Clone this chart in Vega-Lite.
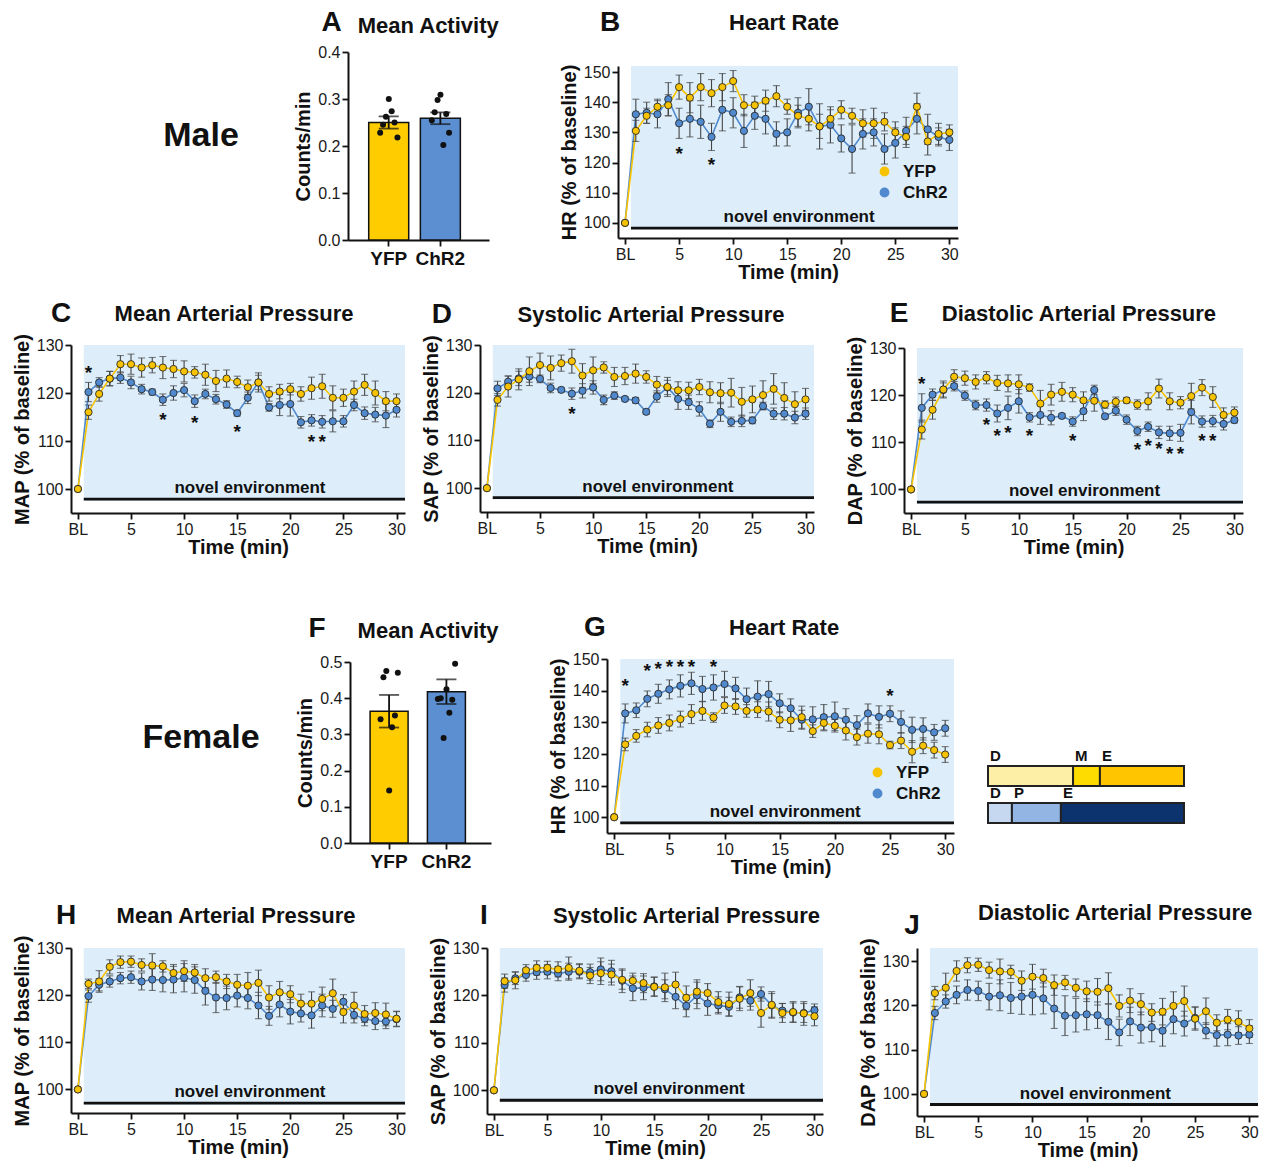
{
"$schema": "https://vega.github.io/schema/vega-lite/v6.json",
"padding": {"left": 12, "top": 8, "right": 2, "bottom": 2},
"background": "white",
"config": {
  "font": "Liberation Sans",
  "view": {"stroke": null},
  "axis": {"domainColor": "#111", "domainWidth": 2, "tickColor": "#111", "tickWidth": 1.8, "tickSize": 6, "labelFontSize": 16, "labelColor": "#1a1a1a", "titleFontSize": 20, "titleFontWeight": "bold", "titleColor": "#111", "grid": false, "labelPadding": 2, "labelOverlap": false},
  "axisY": {"titlePadding": 4},
  "axisX": {"titlePadding": 0},
  "legend": {"labelFontSize": 17, "labelFontWeight": "bold", "labelColor": "#111", "symbolSize": 70, "rowPadding": 3, "labelOffset": 10}
},
"datasets": {
"act": [
{"p":"A","g":"YFP","m":0.250,"se":0.013},{"p":"A","g":"ChR2","m":0.259,"se":0.0125},
{"p":"F","g":"YFP","m":0.364,"se":0.045},{"p":"F","g":"ChR2","m":0.418,"se":0.034}
],
"dots": [
{"p":"A","g":"YFP","id":1,"v":0.228},{"p":"A","g":"YFP","id":2,"v":0.245},{"p":"A","g":"YFP","id":3,"v":0.262},{"p":"A","g":"YFP","id":4,"v":0.300},{"p":"A","g":"YFP","id":5,"v":0.274},{"p":"A","g":"YFP","id":6,"v":0.250},{"p":"A","g":"YFP","id":7,"v":0.218},
{"p":"A","g":"ChR2","id":1,"v":0.255},{"p":"A","g":"ChR2","id":2,"v":0.272},{"p":"A","g":"ChR2","id":3,"v":0.298},{"p":"A","g":"ChR2","id":4,"v":0.309},{"p":"A","g":"ChR2","id":5,"v":0.202},{"p":"A","g":"ChR2","id":6,"v":0.268},{"p":"A","g":"ChR2","id":7,"v":0.228},
{"p":"F","g":"YFP","id":1,"v":0.342},{"p":"F","g":"YFP","id":2,"v":0.458},{"p":"F","g":"YFP","id":3,"v":0.475},{"p":"F","g":"YFP","id":4,"v":0.145},{"p":"F","g":"YFP","id":5,"v":0.320},{"p":"F","g":"YFP","id":6,"v":0.352},{"p":"F","g":"YFP","id":7,"v":0.470},
{"p":"F","g":"ChR2","id":1,"v":0.398},{"p":"F","g":"ChR2","id":2,"v":0.400},{"p":"F","g":"ChR2","id":3,"v":0.290},{"p":"F","g":"ChR2","id":4,"v":0.425},{"p":"F","g":"ChR2","id":5,"v":0.360},{"p":"F","g":"ChR2","id":6,"v":0.396},{"p":"F","g":"ChR2","id":7,"v":0.495}
],
"sch": [
{"r":"YFP","s":"D","k":"yD","a":0,"b":0.434},{"r":"YFP","s":"M","k":"yM","a":0.434,"b":0.571},{"r":"YFP","s":"E","k":"yE","a":0.571,"b":1},
{"r":"ChR2","s":"D","k":"cD","a":0,"b":0.122},{"r":"ChR2","s":"P","k":"cP","a":0.122,"b":0.372},{"r":"ChR2","s":"E","k":"cE","a":0.372,"b":1}
],
"stars": [
{"p":"B","t":5,"y":124.1},{"p":"B","t":8,"y":120.5},
{"p":"C","t":1,"y":125},{"p":"C","t":8,"y":115.3},{"p":"C","t":11,"y":114.5},{"p":"C","t":15,"y":112.7},{"p":"C","t":22,"y":110.6},{"p":"C","t":23,"y":110.6},
{"p":"D","t":8,"y":116.4},
{"p":"E","t":1,"y":123.3},{"p":"E","t":7,"y":114.5},{"p":"E","t":8,"y":112.1},{"p":"E","t":9,"y":112.8},{"p":"E","t":11,"y":112.2},{"p":"E","t":15,"y":111.2},{"p":"E","t":21,"y":109.3},{"p":"E","t":22,"y":110},{"p":"E","t":23,"y":109.4},{"p":"E","t":24,"y":108.4},{"p":"E","t":25,"y":108.4},{"p":"E","t":27,"y":111.2},{"p":"E","t":28,"y":111.2},
{"p":"G","t":1,"y":142.6},{"p":"G","t":3,"y":147.4},{"p":"G","t":4,"y":148},{"p":"G","t":5,"y":148.6},{"p":"G","t":6,"y":148.6},{"p":"G","t":7,"y":148.6},{"p":"G","t":9,"y":148.7},{"p":"G","t":25,"y":139.7}
],
"ts": [
{"p":"B","g":"ChR2","t":0,"v":100,"e":0},{"p":"B","g":"ChR2","t":1,"v":136,"e":5},{"p":"B","g":"ChR2","t":2,"v":136.5,"e":3.5},{"p":"B","g":"ChR2","t":3,"v":136,"e":4.5},{"p":"B","g":"ChR2","t":4,"v":141,"e":5.5},{"p":"B","g":"ChR2","t":5,"v":133,"e":5},{"p":"B","g":"ChR2","t":6,"v":134.5,"e":6},{"p":"B","g":"ChR2","t":7,"v":133.5,"e":5.5},{"p":"B","g":"ChR2","t":8,"v":128.5,"e":4.5},{"p":"B","g":"ChR2","t":9,"v":137.5,"e":7},{"p":"B","g":"ChR2","t":10,"v":136.5,"e":5},{"p":"B","g":"ChR2","t":11,"v":130.5,"e":5.5},{"p":"B","g":"ChR2","t":12,"v":135.5,"e":4.5},{"p":"B","g":"ChR2","t":13,"v":134.5,"e":5},{"p":"B","g":"ChR2","t":14,"v":129.5,"e":4},{"p":"B","g":"ChR2","t":15,"v":130,"e":4.5},{"p":"B","g":"ChR2","t":16,"v":136.5,"e":5},{"p":"B","g":"ChR2","t":17,"v":138.5,"e":6},{"p":"B","g":"ChR2","t":18,"v":132,"e":7.5},{"p":"B","g":"ChR2","t":19,"v":132.5,"e":6},{"p":"B","g":"ChR2","t":20,"v":128,"e":4.5},{"p":"B","g":"ChR2","t":21,"v":124.5,"e":8},{"p":"B","g":"ChR2","t":22,"v":129.5,"e":5},{"p":"B","g":"ChR2","t":23,"v":130,"e":4.5},{"p":"B","g":"ChR2","t":24,"v":124.5,"e":5},{"p":"B","g":"ChR2","t":25,"v":126.5,"e":5},{"p":"B","g":"ChR2","t":26,"v":130.5,"e":4.5},{"p":"B","g":"ChR2","t":27,"v":134.5,"e":5},{"p":"B","g":"ChR2","t":28,"v":131,"e":5},{"p":"B","g":"ChR2","t":29,"v":128.5,"e":3},{"p":"B","g":"ChR2","t":30,"v":127.5,"e":3.5},
{"p":"B","g":"YFP","t":0,"v":100,"e":0},{"p":"B","g":"YFP","t":1,"v":130.5,"e":3.5},{"p":"B","g":"YFP","t":2,"v":135.5,"e":2.5},{"p":"B","g":"YFP","t":3,"v":138.5,"e":2.5},{"p":"B","g":"YFP","t":4,"v":139,"e":3.5},{"p":"B","g":"YFP","t":5,"v":145,"e":4},{"p":"B","g":"YFP","t":6,"v":141.5,"e":5},{"p":"B","g":"YFP","t":7,"v":145,"e":4.5},{"p":"B","g":"YFP","t":8,"v":143,"e":4.5},{"p":"B","g":"YFP","t":9,"v":145,"e":4.5},{"p":"B","g":"YFP","t":10,"v":147,"e":3.5},{"p":"B","g":"YFP","t":11,"v":139,"e":3.5},{"p":"B","g":"YFP","t":12,"v":139,"e":3},{"p":"B","g":"YFP","t":13,"v":140.5,"e":3.5},{"p":"B","g":"YFP","t":14,"v":142,"e":3.5},{"p":"B","g":"YFP","t":15,"v":138.5,"e":2.5},{"p":"B","g":"YFP","t":16,"v":135.5,"e":3.5},{"p":"B","g":"YFP","t":17,"v":134.5,"e":4},{"p":"B","g":"YFP","t":18,"v":132,"e":4},{"p":"B","g":"YFP","t":19,"v":134.5,"e":3},{"p":"B","g":"YFP","t":20,"v":137.5,"e":3},{"p":"B","g":"YFP","t":21,"v":135.5,"e":2.5},{"p":"B","g":"YFP","t":22,"v":133,"e":4.5},{"p":"B","g":"YFP","t":23,"v":133,"e":5},{"p":"B","g":"YFP","t":24,"v":133.5,"e":3},{"p":"B","g":"YFP","t":25,"v":130,"e":3.5},{"p":"B","g":"YFP","t":26,"v":128.5,"e":3.5},{"p":"B","g":"YFP","t":27,"v":138.5,"e":4.5},{"p":"B","g":"YFP","t":28,"v":127,"e":4.5},{"p":"B","g":"YFP","t":29,"v":129.5,"e":3.5},{"p":"B","g":"YFP","t":30,"v":130,"e":2.5},
{"p":"C","g":"ChR2","t":0,"v":100,"e":0},{"p":"C","g":"ChR2","t":1,"v":120.2,"e":2},{"p":"C","g":"ChR2","t":2,"v":122.2,"e":1},{"p":"C","g":"ChR2","t":3,"v":123,"e":1.5},{"p":"C","g":"ChR2","t":4,"v":123.2,"e":1.2},{"p":"C","g":"ChR2","t":5,"v":122.2,"e":1.3},{"p":"C","g":"ChR2","t":6,"v":120.8,"e":1},{"p":"C","g":"ChR2","t":7,"v":120.2,"e":0.6},{"p":"C","g":"ChR2","t":8,"v":118.6,"e":1.2},{"p":"C","g":"ChR2","t":9,"v":120,"e":1.5},{"p":"C","g":"ChR2","t":10,"v":120.6,"e":1.4},{"p":"C","g":"ChR2","t":11,"v":118.3,"e":1.3},{"p":"C","g":"ChR2","t":12,"v":119.8,"e":1},{"p":"C","g":"ChR2","t":13,"v":118.7,"e":1},{"p":"C","g":"ChR2","t":14,"v":117.6,"e":0.8},{"p":"C","g":"ChR2","t":15,"v":115.8,"e":0.6},{"p":"C","g":"ChR2","t":16,"v":119,"e":1.2},{"p":"C","g":"ChR2","t":17,"v":122.2,"e":1.5},{"p":"C","g":"ChR2","t":18,"v":117,"e":0.8},{"p":"C","g":"ChR2","t":19,"v":117.5,"e":2.2},{"p":"C","g":"ChR2","t":20,"v":117.7,"e":2.5},{"p":"C","g":"ChR2","t":21,"v":113.9,"e":1.2},{"p":"C","g":"ChR2","t":22,"v":114.3,"e":1.2},{"p":"C","g":"ChR2","t":23,"v":114,"e":1.3},{"p":"C","g":"ChR2","t":24,"v":114.1,"e":2.2},{"p":"C","g":"ChR2","t":25,"v":114.1,"e":1.2},{"p":"C","g":"ChR2","t":26,"v":117.5,"e":1.2},{"p":"C","g":"ChR2","t":27,"v":115.8,"e":1.3},{"p":"C","g":"ChR2","t":28,"v":115.5,"e":1.5},{"p":"C","g":"ChR2","t":29,"v":115.3,"e":2.5},{"p":"C","g":"ChR2","t":30,"v":116.5,"e":1.5},
{"p":"C","g":"YFP","t":0,"v":100,"e":0},{"p":"C","g":"YFP","t":1,"v":116,"e":1.5},{"p":"C","g":"YFP","t":2,"v":119.8,"e":1.5},{"p":"C","g":"YFP","t":3,"v":123,"e":1.5},{"p":"C","g":"YFP","t":4,"v":126,"e":1.8},{"p":"C","g":"YFP","t":5,"v":126,"e":2.1},{"p":"C","g":"YFP","t":6,"v":125.3,"e":2},{"p":"C","g":"YFP","t":7,"v":125.8,"e":1.6},{"p":"C","g":"YFP","t":8,"v":125.3,"e":2.3},{"p":"C","g":"YFP","t":9,"v":125,"e":1.8},{"p":"C","g":"YFP","t":10,"v":124.5,"e":2.2},{"p":"C","g":"YFP","t":11,"v":124.3,"e":1.2},{"p":"C","g":"YFP","t":12,"v":123.8,"e":2.2},{"p":"C","g":"YFP","t":13,"v":122.5,"e":2.2},{"p":"C","g":"YFP","t":14,"v":123,"e":1.8},{"p":"C","g":"YFP","t":15,"v":122.3,"e":1.2},{"p":"C","g":"YFP","t":16,"v":121.2,"e":1.5},{"p":"C","g":"YFP","t":17,"v":122.2,"e":2},{"p":"C","g":"YFP","t":18,"v":119.8,"e":1.5},{"p":"C","g":"YFP","t":19,"v":120.3,"e":1.5},{"p":"C","g":"YFP","t":20,"v":120.8,"e":1.2},{"p":"C","g":"YFP","t":21,"v":119.8,"e":1.5},{"p":"C","g":"YFP","t":22,"v":121,"e":2.3},{"p":"C","g":"YFP","t":23,"v":121.4,"e":2.5},{"p":"C","g":"YFP","t":24,"v":119,"e":2.5},{"p":"C","g":"YFP","t":25,"v":119,"e":1.8},{"p":"C","g":"YFP","t":26,"v":120.3,"e":2.2},{"p":"C","g":"YFP","t":27,"v":121.7,"e":2.2},{"p":"C","g":"YFP","t":28,"v":120,"e":2.5},{"p":"C","g":"YFP","t":29,"v":118.3,"e":2},{"p":"C","g":"YFP","t":30,"v":118.3,"e":1.5},
{"p":"D","g":"ChR2","t":0,"v":100,"e":0},{"p":"D","g":"ChR2","t":1,"v":120.9,"e":1.5},{"p":"D","g":"ChR2","t":2,"v":122.3,"e":1.2},{"p":"D","g":"ChR2","t":3,"v":123,"e":1.5},{"p":"D","g":"ChR2","t":4,"v":123.4,"e":1.2},{"p":"D","g":"ChR2","t":5,"v":122.9,"e":0.8},{"p":"D","g":"ChR2","t":6,"v":121,"e":1},{"p":"D","g":"ChR2","t":7,"v":120.6,"e":0.5},{"p":"D","g":"ChR2","t":8,"v":119.8,"e":1.2},{"p":"D","g":"ChR2","t":9,"v":120.4,"e":1.5},{"p":"D","g":"ChR2","t":10,"v":121.1,"e":1.4},{"p":"D","g":"ChR2","t":11,"v":118.5,"e":1},{"p":"D","g":"ChR2","t":12,"v":119.4,"e":0.8},{"p":"D","g":"ChR2","t":13,"v":118.7,"e":0.5},{"p":"D","g":"ChR2","t":14,"v":118.4,"e":0.6},{"p":"D","g":"ChR2","t":15,"v":116,"e":0.5},{"p":"D","g":"ChR2","t":16,"v":119.2,"e":1.2},{"p":"D","g":"ChR2","t":17,"v":121.1,"e":1.5},{"p":"D","g":"ChR2","t":18,"v":118.7,"e":2.2},{"p":"D","g":"ChR2","t":19,"v":118,"e":1.5},{"p":"D","g":"ChR2","t":20,"v":116.6,"e":1.5},{"p":"D","g":"ChR2","t":21,"v":113.5,"e":0.8},{"p":"D","g":"ChR2","t":22,"v":116,"e":2},{"p":"D","g":"ChR2","t":23,"v":113.9,"e":1},{"p":"D","g":"ChR2","t":24,"v":114.1,"e":1.2},{"p":"D","g":"ChR2","t":25,"v":114.2,"e":0.7},{"p":"D","g":"ChR2","t":26,"v":117.2,"e":0.8},{"p":"D","g":"ChR2","t":27,"v":115.6,"e":1.2},{"p":"D","g":"ChR2","t":28,"v":115.6,"e":1.3},{"p":"D","g":"ChR2","t":29,"v":114.8,"e":1.3},{"p":"D","g":"ChR2","t":30,"v":115.6,"e":1.2},
{"p":"D","g":"YFP","t":0,"v":100,"e":0},{"p":"D","g":"YFP","t":1,"v":118.5,"e":1.3},{"p":"D","g":"YFP","t":2,"v":121.3,"e":2.2},{"p":"D","g":"YFP","t":3,"v":122.8,"e":2.2},{"p":"D","g":"YFP","t":4,"v":124.5,"e":3},{"p":"D","g":"YFP","t":5,"v":125.8,"e":2.5},{"p":"D","g":"YFP","t":6,"v":125.2,"e":2.5},{"p":"D","g":"YFP","t":7,"v":126.2,"e":1.7},{"p":"D","g":"YFP","t":8,"v":126.6,"e":2.5},{"p":"D","g":"YFP","t":9,"v":123.6,"e":2.5},{"p":"D","g":"YFP","t":10,"v":124.7,"e":2.8},{"p":"D","g":"YFP","t":11,"v":125.3,"e":1.2},{"p":"D","g":"YFP","t":12,"v":123.3,"e":2},{"p":"D","g":"YFP","t":13,"v":123.5,"e":1.8},{"p":"D","g":"YFP","t":14,"v":124,"e":2},{"p":"D","g":"YFP","t":15,"v":123.3,"e":1.3},{"p":"D","g":"YFP","t":16,"v":121.7,"e":1.7},{"p":"D","g":"YFP","t":17,"v":121.2,"e":2},{"p":"D","g":"YFP","t":18,"v":120.5,"e":1.8},{"p":"D","g":"YFP","t":19,"v":120.5,"e":1.7},{"p":"D","g":"YFP","t":20,"v":121.2,"e":1.6},{"p":"D","g":"YFP","t":21,"v":120.1,"e":2.2},{"p":"D","g":"YFP","t":22,"v":119.9,"e":2.2},{"p":"D","g":"YFP","t":23,"v":120,"e":3},{"p":"D","g":"YFP","t":24,"v":118.1,"e":3},{"p":"D","g":"YFP","t":25,"v":118.6,"e":2.8},{"p":"D","g":"YFP","t":26,"v":119.5,"e":3},{"p":"D","g":"YFP","t":27,"v":120.8,"e":3.2},{"p":"D","g":"YFP","t":28,"v":118.9,"e":3.2},{"p":"D","g":"YFP","t":29,"v":117.6,"e":2.6},{"p":"D","g":"YFP","t":30,"v":118.6,"e":2.3},
{"p":"E","g":"ChR2","t":0,"v":100,"e":0},{"p":"E","g":"ChR2","t":1,"v":117.3,"e":3},{"p":"E","g":"ChR2","t":2,"v":120.1,"e":1.2},{"p":"E","g":"ChR2","t":3,"v":121.1,"e":1.5},{"p":"E","g":"ChR2","t":4,"v":121.9,"e":1},{"p":"E","g":"ChR2","t":5,"v":119.9,"e":1},{"p":"E","g":"ChR2","t":6,"v":117.9,"e":1},{"p":"E","g":"ChR2","t":7,"v":117.9,"e":1.3},{"p":"E","g":"ChR2","t":8,"v":116.1,"e":1.8},{"p":"E","g":"ChR2","t":9,"v":117.3,"e":2.5},{"p":"E","g":"ChR2","t":10,"v":118.7,"e":2.5},{"p":"E","g":"ChR2","t":11,"v":115.3,"e":1},{"p":"E","g":"ChR2","t":12,"v":115.8,"e":2},{"p":"E","g":"ChR2","t":13,"v":115.2,"e":1.5},{"p":"E","g":"ChR2","t":14,"v":115.6,"e":0.5},{"p":"E","g":"ChR2","t":15,"v":114.4,"e":1},{"p":"E","g":"ChR2","t":16,"v":116.6,"e":2},{"p":"E","g":"ChR2","t":17,"v":121.1,"e":1},{"p":"E","g":"ChR2","t":18,"v":115.5,"e":0.5},{"p":"E","g":"ChR2","t":19,"v":116.7,"e":1},{"p":"E","g":"ChR2","t":20,"v":114.8,"e":1},{"p":"E","g":"ChR2","t":21,"v":112.4,"e":1},{"p":"E","g":"ChR2","t":22,"v":113.3,"e":1},{"p":"E","g":"ChR2","t":23,"v":112.1,"e":1.3},{"p":"E","g":"ChR2","t":24,"v":111.9,"e":1.5},{"p":"E","g":"ChR2","t":25,"v":112,"e":1.8},{"p":"E","g":"ChR2","t":26,"v":116.4,"e":2.5},{"p":"E","g":"ChR2","t":27,"v":114.4,"e":1.2},{"p":"E","g":"ChR2","t":28,"v":114.5,"e":1.2},{"p":"E","g":"ChR2","t":29,"v":113.9,"e":1.3},{"p":"E","g":"ChR2","t":30,"v":114.7,"e":0.6},
{"p":"E","g":"YFP","t":0,"v":100,"e":0},{"p":"E","g":"YFP","t":1,"v":112.7,"e":2},{"p":"E","g":"YFP","t":2,"v":116.9,"e":2},{"p":"E","g":"YFP","t":3,"v":121.2,"e":1.8},{"p":"E","g":"YFP","t":4,"v":123.9,"e":1.5},{"p":"E","g":"YFP","t":5,"v":123.6,"e":1.5},{"p":"E","g":"YFP","t":6,"v":122.8,"e":1.5},{"p":"E","g":"YFP","t":7,"v":123.7,"e":1.3},{"p":"E","g":"YFP","t":8,"v":122.6,"e":1.6},{"p":"E","g":"YFP","t":9,"v":122.5,"e":1.8},{"p":"E","g":"YFP","t":10,"v":122.3,"e":2},{"p":"E","g":"YFP","t":11,"v":121.6,"e":0.8},{"p":"E","g":"YFP","t":12,"v":118.2,"e":2.8},{"p":"E","g":"YFP","t":13,"v":120.1,"e":2.2},{"p":"E","g":"YFP","t":14,"v":120.7,"e":2},{"p":"E","g":"YFP","t":15,"v":120.1,"e":1.5},{"p":"E","g":"YFP","t":16,"v":118.9,"e":1.8},{"p":"E","g":"YFP","t":17,"v":118.8,"e":2.2},{"p":"E","g":"YFP","t":18,"v":118,"e":0.8},{"p":"E","g":"YFP","t":19,"v":118.6,"e":1},{"p":"E","g":"YFP","t":20,"v":118.9,"e":0.6},{"p":"E","g":"YFP","t":21,"v":118,"e":1},{"p":"E","g":"YFP","t":22,"v":118.7,"e":1.8},{"p":"E","g":"YFP","t":23,"v":121.4,"e":2},{"p":"E","g":"YFP","t":24,"v":118.7,"e":1.8},{"p":"E","g":"YFP","t":25,"v":118.4,"e":1.3},{"p":"E","g":"YFP","t":26,"v":119.8,"e":2.7},{"p":"E","g":"YFP","t":27,"v":121.6,"e":1.7},{"p":"E","g":"YFP","t":28,"v":119.6,"e":2.2},{"p":"E","g":"YFP","t":29,"v":115.8,"e":1.5},{"p":"E","g":"YFP","t":30,"v":116.3,"e":1.2},
{"p":"G","g":"ChR2","t":0,"v":100,"e":0},{"p":"G","g":"ChR2","t":1,"v":132.8,"e":3},{"p":"G","g":"ChR2","t":2,"v":133.8,"e":2.3},{"p":"G","g":"ChR2","t":3,"v":137.4,"e":2.5},{"p":"G","g":"ChR2","t":4,"v":139,"e":3},{"p":"G","g":"ChR2","t":5,"v":140.4,"e":3},{"p":"G","g":"ChR2","t":6,"v":141.5,"e":3.5},{"p":"G","g":"ChR2","t":7,"v":142.3,"e":3.5},{"p":"G","g":"ChR2","t":8,"v":140.5,"e":4},{"p":"G","g":"ChR2","t":9,"v":141,"e":4},{"p":"G","g":"ChR2","t":10,"v":142.1,"e":4},{"p":"G","g":"ChR2","t":11,"v":140.7,"e":3.5},{"p":"G","g":"ChR2","t":12,"v":137.3,"e":3.5},{"p":"G","g":"ChR2","t":13,"v":138.1,"e":5},{"p":"G","g":"ChR2","t":14,"v":138.9,"e":4},{"p":"G","g":"ChR2","t":15,"v":136,"e":3},{"p":"G","g":"ChR2","t":16,"v":134.4,"e":3},{"p":"G","g":"ChR2","t":17,"v":130.8,"e":3},{"p":"G","g":"ChR2","t":18,"v":130.9,"e":4},{"p":"G","g":"ChR2","t":19,"v":131.6,"e":4},{"p":"G","g":"ChR2","t":20,"v":131.9,"e":4.5},{"p":"G","g":"ChR2","t":21,"v":130.8,"e":3.5},{"p":"G","g":"ChR2","t":22,"v":129.1,"e":3},{"p":"G","g":"ChR2","t":23,"v":132.8,"e":3},{"p":"G","g":"ChR2","t":24,"v":131.7,"e":3.5},{"p":"G","g":"ChR2","t":25,"v":132.7,"e":2.5},{"p":"G","g":"ChR2","t":26,"v":130.1,"e":3.5},{"p":"G","g":"ChR2","t":27,"v":127.6,"e":4},{"p":"G","g":"ChR2","t":28,"v":127.9,"e":3.5},{"p":"G","g":"ChR2","t":29,"v":126.8,"e":2.5},{"p":"G","g":"ChR2","t":30,"v":128.1,"e":2.5},
{"p":"G","g":"YFP","t":0,"v":100,"e":0},{"p":"G","g":"YFP","t":1,"v":123,"e":2},{"p":"G","g":"YFP","t":2,"v":125.7,"e":2},{"p":"G","g":"YFP","t":3,"v":127.7,"e":2.3},{"p":"G","g":"YFP","t":4,"v":129,"e":2.5},{"p":"G","g":"YFP","t":5,"v":129.8,"e":2.5},{"p":"G","g":"YFP","t":6,"v":131,"e":2.5},{"p":"G","g":"YFP","t":7,"v":132.6,"e":3},{"p":"G","g":"YFP","t":8,"v":133.6,"e":3},{"p":"G","g":"YFP","t":9,"v":131.5,"e":1.5},{"p":"G","g":"YFP","t":10,"v":135.3,"e":2.5},{"p":"G","g":"YFP","t":11,"v":135,"e":2.5},{"p":"G","g":"YFP","t":12,"v":133.6,"e":2},{"p":"G","g":"YFP","t":13,"v":134,"e":2.5},{"p":"G","g":"YFP","t":14,"v":133.4,"e":3},{"p":"G","g":"YFP","t":15,"v":130.8,"e":2.5},{"p":"G","g":"YFP","t":16,"v":130.6,"e":3.5},{"p":"G","g":"YFP","t":17,"v":131.6,"e":3.5},{"p":"G","g":"YFP","t":18,"v":127.2,"e":2},{"p":"G","g":"YFP","t":19,"v":129.8,"e":2.5},{"p":"G","g":"YFP","t":20,"v":128.9,"e":2},{"p":"G","g":"YFP","t":21,"v":127.4,"e":3},{"p":"G","g":"YFP","t":22,"v":125.3,"e":2.5},{"p":"G","g":"YFP","t":23,"v":126.4,"e":3},{"p":"G","g":"YFP","t":24,"v":126.2,"e":3},{"p":"G","g":"YFP","t":25,"v":122.8,"e":1.2},{"p":"G","g":"YFP","t":26,"v":124.2,"e":2.5},{"p":"G","g":"YFP","t":27,"v":120.7,"e":3.5},{"p":"G","g":"YFP","t":28,"v":122.6,"e":2.5},{"p":"G","g":"YFP","t":29,"v":121.2,"e":2.5},{"p":"G","g":"YFP","t":30,"v":119.8,"e":2.5},
{"p":"H","g":"ChR2","t":0,"v":100,"e":0},{"p":"H","g":"ChR2","t":1,"v":119.8,"e":1.3},{"p":"H","g":"ChR2","t":2,"v":122.2,"e":1.3},{"p":"H","g":"ChR2","t":3,"v":122.9,"e":1.2},{"p":"H","g":"ChR2","t":4,"v":123.6,"e":1.2},{"p":"H","g":"ChR2","t":5,"v":123.8,"e":1.3},{"p":"H","g":"ChR2","t":6,"v":122.9,"e":1.8},{"p":"H","g":"ChR2","t":7,"v":123.3,"e":2.3},{"p":"H","g":"ChR2","t":8,"v":123.2,"e":2.5},{"p":"H","g":"ChR2","t":9,"v":123.3,"e":2.8},{"p":"H","g":"ChR2","t":10,"v":123.7,"e":3},{"p":"H","g":"ChR2","t":11,"v":123.2,"e":2.8},{"p":"H","g":"ChR2","t":12,"v":120.9,"e":3},{"p":"H","g":"ChR2","t":13,"v":119.5,"e":3.2},{"p":"H","g":"ChR2","t":14,"v":119.4,"e":2.5},{"p":"H","g":"ChR2","t":15,"v":119.9,"e":2.4},{"p":"H","g":"ChR2","t":16,"v":119.4,"e":2.3},{"p":"H","g":"ChR2","t":17,"v":117.8,"e":2.8},{"p":"H","g":"ChR2","t":18,"v":115.6,"e":2},{"p":"H","g":"ChR2","t":19,"v":118,"e":2.6},{"p":"H","g":"ChR2","t":20,"v":116.5,"e":2.6},{"p":"H","g":"ChR2","t":21,"v":116.1,"e":1.8},{"p":"H","g":"ChR2","t":22,"v":115.7,"e":2.7},{"p":"H","g":"ChR2","t":23,"v":117.8,"e":2.4},{"p":"H","g":"ChR2","t":24,"v":117.1,"e":1.8},{"p":"H","g":"ChR2","t":25,"v":118.6,"e":1.5},{"p":"H","g":"ChR2","t":26,"v":115.8,"e":1.7},{"p":"H","g":"ChR2","t":27,"v":115,"e":1.5},{"p":"H","g":"ChR2","t":28,"v":114.5,"e":1.8},{"p":"H","g":"ChR2","t":29,"v":114.4,"e":1.5},{"p":"H","g":"ChR2","t":30,"v":114.9,"e":1.6},
{"p":"H","g":"YFP","t":0,"v":100,"e":0},{"p":"H","g":"YFP","t":1,"v":122.4,"e":1},{"p":"H","g":"YFP","t":2,"v":122.9,"e":2.3},{"p":"H","g":"YFP","t":3,"v":126,"e":1.5},{"p":"H","g":"YFP","t":4,"v":127,"e":1.3},{"p":"H","g":"YFP","t":5,"v":127.1,"e":1.2},{"p":"H","g":"YFP","t":6,"v":126.4,"e":1.3},{"p":"H","g":"YFP","t":7,"v":126.3,"e":2.5},{"p":"H","g":"YFP","t":8,"v":126.1,"e":1.2},{"p":"H","g":"YFP","t":9,"v":124.7,"e":1.8},{"p":"H","g":"YFP","t":10,"v":125.1,"e":2.2},{"p":"H","g":"YFP","t":11,"v":124.8,"e":1.7},{"p":"H","g":"YFP","t":12,"v":123.6,"e":2},{"p":"H","g":"YFP","t":13,"v":123.8,"e":1.3},{"p":"H","g":"YFP","t":14,"v":122.9,"e":1.5},{"p":"H","g":"YFP","t":15,"v":122.2,"e":2.2},{"p":"H","g":"YFP","t":16,"v":122,"e":2.8},{"p":"H","g":"YFP","t":17,"v":122.6,"e":2.7},{"p":"H","g":"YFP","t":18,"v":119.5,"e":2.5},{"p":"H","g":"YFP","t":19,"v":120.6,"e":2.3},{"p":"H","g":"YFP","t":20,"v":120.2,"e":1.8},{"p":"H","g":"YFP","t":21,"v":118.2,"e":2},{"p":"H","g":"YFP","t":22,"v":118.2,"e":2.5},{"p":"H","g":"YFP","t":23,"v":119.2,"e":2.5},{"p":"H","g":"YFP","t":24,"v":120.4,"e":3},{"p":"H","g":"YFP","t":25,"v":116.4,"e":2.3},{"p":"H","g":"YFP","t":26,"v":117.8,"e":2.8},{"p":"H","g":"YFP","t":27,"v":116,"e":1.8},{"p":"H","g":"YFP","t":28,"v":116.2,"e":2.2},{"p":"H","g":"YFP","t":29,"v":115.9,"e":2.4},{"p":"H","g":"YFP","t":30,"v":115,"e":1.6},
{"p":"I","g":"ChR2","t":0,"v":100,"e":0},{"p":"I","g":"ChR2","t":1,"v":122.2,"e":1.5},{"p":"I","g":"ChR2","t":2,"v":123.6,"e":1.3},{"p":"I","g":"ChR2","t":3,"v":124.3,"e":1.3},{"p":"I","g":"ChR2","t":4,"v":124.9,"e":1.5},{"p":"I","g":"ChR2","t":5,"v":125,"e":1.5},{"p":"I","g":"ChR2","t":6,"v":124.6,"e":1.5},{"p":"I","g":"ChR2","t":7,"v":125,"e":1.8},{"p":"I","g":"ChR2","t":8,"v":125,"e":1.5},{"p":"I","g":"ChR2","t":9,"v":124.9,"e":1.7},{"p":"I","g":"ChR2","t":10,"v":125.5,"e":2.4},{"p":"I","g":"ChR2","t":11,"v":125.1,"e":2.3},{"p":"I","g":"ChR2","t":12,"v":123.1,"e":2.5},{"p":"I","g":"ChR2","t":13,"v":121.5,"e":2.6},{"p":"I","g":"ChR2","t":14,"v":121.6,"e":2.5},{"p":"I","g":"ChR2","t":15,"v":121.9,"e":2},{"p":"I","g":"ChR2","t":16,"v":121.3,"e":2},{"p":"I","g":"ChR2","t":17,"v":119.7,"e":2.5},{"p":"I","g":"ChR2","t":18,"v":117.8,"e":2.3},{"p":"I","g":"ChR2","t":19,"v":120,"e":2.8},{"p":"I","g":"ChR2","t":20,"v":118.3,"e":2.5},{"p":"I","g":"ChR2","t":21,"v":117.9,"e":1.8},{"p":"I","g":"ChR2","t":22,"v":117.6,"e":2},{"p":"I","g":"ChR2","t":23,"v":119.6,"e":2.3},{"p":"I","g":"ChR2","t":24,"v":118.9,"e":2},{"p":"I","g":"ChR2","t":25,"v":120.3,"e":1.5},{"p":"I","g":"ChR2","t":26,"v":117.9,"e":2.5},{"p":"I","g":"ChR2","t":27,"v":116.8,"e":1.5},{"p":"I","g":"ChR2","t":28,"v":116.4,"e":2},{"p":"I","g":"ChR2","t":29,"v":116.3,"e":2},{"p":"I","g":"ChR2","t":30,"v":116.9,"e":1.3},
{"p":"I","g":"YFP","t":0,"v":100,"e":0},{"p":"I","g":"YFP","t":1,"v":123,"e":1.5},{"p":"I","g":"YFP","t":2,"v":123.2,"e":1.8},{"p":"I","g":"YFP","t":3,"v":125.3,"e":1.2},{"p":"I","g":"YFP","t":4,"v":125.8,"e":1.5},{"p":"I","g":"YFP","t":5,"v":125.8,"e":1.4},{"p":"I","g":"YFP","t":6,"v":125.5,"e":1.6},{"p":"I","g":"YFP","t":7,"v":125.8,"e":2.3},{"p":"I","g":"YFP","t":8,"v":125.2,"e":1.5},{"p":"I","g":"YFP","t":9,"v":124.2,"e":1.7},{"p":"I","g":"YFP","t":10,"v":124.7,"e":2.4},{"p":"I","g":"YFP","t":11,"v":124.4,"e":2.2},{"p":"I","g":"YFP","t":12,"v":123.3,"e":2},{"p":"I","g":"YFP","t":13,"v":123.1,"e":1.6},{"p":"I","g":"YFP","t":14,"v":122.6,"e":2},{"p":"I","g":"YFP","t":15,"v":121.8,"e":2},{"p":"I","g":"YFP","t":16,"v":121.7,"e":3},{"p":"I","g":"YFP","t":17,"v":122.3,"e":2.6},{"p":"I","g":"YFP","t":18,"v":119.5,"e":2.5},{"p":"I","g":"YFP","t":19,"v":120.8,"e":2.5},{"p":"I","g":"YFP","t":20,"v":120.5,"e":2},{"p":"I","g":"YFP","t":21,"v":118.6,"e":2.2},{"p":"I","g":"YFP","t":22,"v":118.2,"e":2.5},{"p":"I","g":"YFP","t":23,"v":119.3,"e":2.5},{"p":"I","g":"YFP","t":24,"v":120.5,"e":2.8},{"p":"I","g":"YFP","t":25,"v":116.3,"e":3},{"p":"I","g":"YFP","t":26,"v":118,"e":2.8},{"p":"I","g":"YFP","t":27,"v":116.3,"e":2},{"p":"I","g":"YFP","t":28,"v":116.5,"e":2.2},{"p":"I","g":"YFP","t":29,"v":116.2,"e":2.5},{"p":"I","g":"YFP","t":30,"v":115.6,"e":2},
{"p":"J","g":"ChR2","t":0,"v":100,"e":0},{"p":"J","g":"ChR2","t":1,"v":118.3,"e":1.5},{"p":"J","g":"ChR2","t":2,"v":120.9,"e":1.5},{"p":"J","g":"ChR2","t":3,"v":122.4,"e":2},{"p":"J","g":"ChR2","t":4,"v":123.5,"e":2.3},{"p":"J","g":"ChR2","t":5,"v":123.3,"e":2.2},{"p":"J","g":"ChR2","t":6,"v":122,"e":3},{"p":"J","g":"ChR2","t":7,"v":122.3,"e":3.5},{"p":"J","g":"ChR2","t":8,"v":121.7,"e":3.5},{"p":"J","g":"ChR2","t":9,"v":122,"e":4},{"p":"J","g":"ChR2","t":10,"v":122.4,"e":4.5},{"p":"J","g":"ChR2","t":11,"v":121.6,"e":3.5},{"p":"J","g":"ChR2","t":12,"v":119.3,"e":4.5},{"p":"J","g":"ChR2","t":13,"v":117.7,"e":4.5},{"p":"J","g":"ChR2","t":14,"v":117.8,"e":3.8},{"p":"J","g":"ChR2","t":15,"v":118,"e":3.5},{"p":"J","g":"ChR2","t":16,"v":117.8,"e":3},{"p":"J","g":"ChR2","t":17,"v":116.3,"e":4},{"p":"J","g":"ChR2","t":18,"v":113.9,"e":3},{"p":"J","g":"ChR2","t":19,"v":116.4,"e":3.2},{"p":"J","g":"ChR2","t":20,"v":115,"e":3.5},{"p":"J","g":"ChR2","t":21,"v":115.1,"e":3.3},{"p":"J","g":"ChR2","t":22,"v":114.3,"e":3.5},{"p":"J","g":"ChR2","t":23,"v":116.9,"e":3.3},{"p":"J","g":"ChR2","t":24,"v":115.9,"e":2.8},{"p":"J","g":"ChR2","t":25,"v":117.2,"e":2.5},{"p":"J","g":"ChR2","t":26,"v":114.3,"e":1.8},{"p":"J","g":"ChR2","t":27,"v":113.3,"e":2.5},{"p":"J","g":"ChR2","t":28,"v":113.4,"e":2.5},{"p":"J","g":"ChR2","t":29,"v":113.2,"e":2},{"p":"J","g":"ChR2","t":30,"v":113.4,"e":2},
{"p":"J","g":"YFP","t":0,"v":100,"e":0},{"p":"J","g":"YFP","t":1,"v":122.8,"e":1.5},{"p":"J","g":"YFP","t":2,"v":124,"e":3.3},{"p":"J","g":"YFP","t":3,"v":127.8,"e":2.3},{"p":"J","g":"YFP","t":4,"v":129.1,"e":1.7},{"p":"J","g":"YFP","t":5,"v":129.2,"e":1.5},{"p":"J","g":"YFP","t":6,"v":128,"e":1.8},{"p":"J","g":"YFP","t":7,"v":127.7,"e":2.8},{"p":"J","g":"YFP","t":8,"v":127.6,"e":1.5},{"p":"J","g":"YFP","t":9,"v":125.6,"e":2.2},{"p":"J","g":"YFP","t":10,"v":126.5,"e":2.8},{"p":"J","g":"YFP","t":11,"v":126.2,"e":2},{"p":"J","g":"YFP","t":12,"v":124.6,"e":2.3},{"p":"J","g":"YFP","t":13,"v":125.2,"e":1.6},{"p":"J","g":"YFP","t":14,"v":124,"e":2},{"p":"J","g":"YFP","t":15,"v":123.2,"e":2.3},{"p":"J","g":"YFP","t":16,"v":123.1,"e":3},{"p":"J","g":"YFP","t":17,"v":123.9,"e":3.5},{"p":"J","g":"YFP","t":18,"v":119.9,"e":2.5},{"p":"J","g":"YFP","t":19,"v":121.1,"e":2.7},{"p":"J","g":"YFP","t":20,"v":120.3,"e":2.4},{"p":"J","g":"YFP","t":21,"v":118.4,"e":2},{"p":"J","g":"YFP","t":22,"v":118.6,"e":3},{"p":"J","g":"YFP","t":23,"v":119.9,"e":3.2},{"p":"J","g":"YFP","t":24,"v":121,"e":3.4},{"p":"J","g":"YFP","t":25,"v":117,"e":2.6},{"p":"J","g":"YFP","t":26,"v":118.7,"e":3},{"p":"J","g":"YFP","t":27,"v":116.1,"e":1.8},{"p":"J","g":"YFP","t":28,"v":116.8,"e":2.3},{"p":"J","g":"YFP","t":29,"v":116.3,"e":2.5},{"p":"J","g":"YFP","t":30,"v":114.8,"e":2}
]
},
"resolve": {"scale": {"color": "independent"}, "legend": {"color": "independent"}},
"bounds": "flush",
"align": "each",
"spacing": {"row": 0, "column": 0},
"columns": 4,
"concat": [
{"width": 260, "height": 168, "data": {"values": [{"lab": "Male"}]}, "mark": {"type": "text", "fontSize": 34, "fontWeight": "bold", "color": "#111"}, "encoding": {"text": {"field": "lab", "type": "nominal"}}},
{"width": 259, "height": 188,
 "resolve": {"scale": {"x": "independent"}},
 "layer": [
  {"layer": [
   {"data": {"name": "act"}, "transform": [{"filter": "datum.p === 'A'"}], "mark": {"type": "bar", "stroke": "#111", "strokeWidth": 1.5, "size": 40},
    "encoding": {
     "x": {"field": "g", "type": "nominal", "title": null, "sort": ["YFP", "ChR2"], "scale": {"domain": ["YFP", "ChR2"], "range": [0, 141], "paddingInner": 0.23, "paddingOuter": 0.48, "align": 0.42}, "axis": {"labelAngle": 0, "labelFontSize": 19, "labelFontWeight": "bold", "labelPadding": 3, "labelColor": "#111"}},
     "y": {"field": "m", "type": "quantitative", "title": "Counts/min", "scale": {"domain": [0, 0.4], "nice": false}, "axis": {"values": [0, 0.1, 0.2, 0.3, 0.4], "format": ".1f", "labelFlush": false, "labelOverlap": false, "tickCount": 5}},
     "color": {"field": "g", "type": "nominal", "scale": {"domain": ["YFP", "ChR2"], "range": ["#ffcc00", "#5b8fd1"]}, "legend": null}}},
   {"data": {"name": "act"}, "transform": [{"filter": "datum.p === 'A'"}], "mark": {"type": "errorbar", "color": "#111", "thickness": 1.8, "ticks": true, "size": 20},
    "encoding": {"x": {"field": "g", "type": "nominal", "title": null}, "y": {"field": "m", "type": "quantitative", "title": "Counts/min"}, "yError": {"field": "se"}}},
   {"data": {"values": [{}]}, "mark": {"type": "text", "text": "A", "fontSize": 28, "fontWeight": "bold", "dx": -57, "color": "#111"}, "encoding": {"x": {"datum": "YFP", "type": "nominal", "title": null}, "y": {"datum": 0.462, "type": "quantitative", "title": "Counts/min"}}},
   {"data": {"values": [{}]}, "mark": {"type": "text", "text": "Mean Activity", "fontSize": 22, "fontWeight": "bold", "dx": 39.5, "color": "#111"}, "encoding": {"x": {"datum": "YFP", "type": "nominal", "title": null}, "y": {"datum": 0.455, "type": "quantitative", "title": "Counts/min"}}}
  ]},
  {"data": {"name": "dots"}, "transform": [{"filter": "datum.p === 'A'"}], "mark": {"type": "circle", "color": "#111", "size": 36, "opacity": 1},
   "encoding": {"x": {"field": "g", "type": "nominal", "title": null, "scale": {"domain": ["YFP", "ChR2"], "range": [0, 141], "paddingInner": 0.61, "paddingOuter": 0.67, "align": 0.444}, "axis": null}, "xOffset": {"field": "id", "type": "nominal"}, "y": {"field": "v", "type": "quantitative", "title": "Counts/min"}}}
 ]},
{"width": 381, "height": 186,
 "layer": [
  {"data": {"values": [{}]}, "mark": {"type": "rect", "color": "#ddeefa"}, "encoding": {
    "x": {"datum": 0.55, "type": "quantitative", "title": "Time (min)", "scale": {"domain": [-0.65, 30.8], "range": [11, 351], "nice": false, "zero": false}, "axis": {"values": [0, 5, 10, 15, 20, 25, 30], "labelExpr": "datum.value === 0 ? 'BL' : datum.label", "labelFlush": false}},
    "x2": {"datum": 30.8},
    "y": {"datum": 97.9, "type": "quantitative", "title": "HR (% of baseline)", "scale": {"domain": [95, 152], "range": [186, 14], "nice": false, "zero": false}, "axis": {"values": [100, 110, 120, 130, 140, 150], "labelFlush": false, "offset": -11, "labelOverlap": false, "tickCount": 6}},
    "y2": {"datum": 152}}},
  {"data": {"values": [{}]}, "mark": {"type": "rule", "color": "#111", "strokeWidth": 2.8}, "encoding": {"x": {"datum": 0.55, "type": "quantitative", "title": "Time (min)"}, "x2": {"datum": 30.8}, "y": {"datum": 98.3, "type": "quantitative", "title": "HR (% of baseline)"}}},
  {"data": {"values": [{}]}, "mark": {"type": "text", "text": "novel environment", "fontSize": 17, "fontWeight": "bold", "baseline": "alphabetic", "dy": -6, "color": "#111"}, "encoding": {"x": {"datum": 16.1, "type": "quantitative", "title": "Time (min)"}, "y": {"datum": 98.3, "type": "quantitative", "title": "HR (% of baseline)"}}},
  {"data": {"name": "ts"}, "transform": [{"filter": "datum.p === 'B'"}], "mark": {"type": "line", "strokeWidth": 1.6}, "encoding": {"x": {"field": "t", "type": "quantitative", "title": "Time (min)"}, "y": {"field": "v", "type": "quantitative", "title": "HR (% of baseline)"}, "color": {"field": "g", "type": "nominal", "scale": {"domain": ["YFP", "ChR2"], "range": ["#f7c300", "#5089cd"]}, "legend": {"orient": "none", "legendX": 269, "legendY": 111, "title": null, "symbolType": "circle"}}}},
  {"data": {"name": "ts"}, "transform": [{"filter": "datum.p === 'B' && datum.t > 0"}], "mark": {"type": "errorbar", "color": "#444", "thickness": 1.1, "ticks": true, "size": 7}, "encoding": {"x": {"field": "t", "type": "quantitative", "title": "Time (min)"}, "y": {"field": "v", "type": "quantitative", "title": "HR (% of baseline)"}, "yError": {"field": "e"}}},
  {"data": {"name": "ts"}, "transform": [{"filter": "datum.p === 'B'"}], "mark": {"type": "point", "filled": true, "size": 52, "stroke": "#2a2a2a", "strokeWidth": 0.9, "opacity": 1}, "encoding": {"x": {"field": "t", "type": "quantitative", "title": "Time (min)"}, "y": {"field": "v", "type": "quantitative", "title": "HR (% of baseline)"}, "color": {"field": "g", "type": "nominal", "scale": {"domain": ["YFP", "ChR2"], "range": ["#f7c300", "#5089cd"]}, "legend": {"orient": "none", "legendX": 269, "legendY": 111, "title": null, "symbolType": "circle"}}}},
  {"data": {"name": "stars"}, "transform": [{"filter": "datum.p === 'B'"}], "mark": {"type": "text", "text": "*", "fontSize": 19, "fontWeight": "bold", "dy": 10, "baseline": "alphabetic", "color": "#111"}, "encoding": {"x": {"field": "t", "type": "quantitative", "title": "Time (min)"}, "y": {"field": "y", "type": "quantitative", "title": "HR (% of baseline)"}}},
  {"data": {"values": [{}]}, "mark": {"type": "text", "text": "B", "fontSize": 28, "fontWeight": "bold", "color": "#111"}, "encoding": {"x": {"datum": -1.39, "type": "quantitative", "title": "Time (min)"}, "y": {"datum": 166.2, "type": "quantitative", "title": "HR (% of baseline)"}}},
  {"data": {"values": [{}]}, "mark": {"type": "text", "text": "Heart Rate", "fontSize": 22, "fontWeight": "bold", "color": "#111"}, "encoding": {"x": {"datum": 14.71, "type": "quantitative", "title": "Time (min)"}, "y": {"datum": 166.2, "type": "quantitative", "title": "HR (% of baseline)"}}}
 ]},
{"width": 1, "height": 1, "data": {"values": []}, "mark": "point"},

{"width": 1, "height": 105, "data": {"values": []}, "mark": "point"},
{"width": 1, "height": 1, "data": {"values": []}, "mark": "point"},
{"width": 1, "height": 1, "data": {"values": []}, "mark": "point"},
{"width": 1, "height": 1, "data": {"values": []}, "mark": "point"},

{"width": 277, "height": 168,
 "layer": [
  {"data": {"values": [{}]}, "mark": {"type": "rect", "color": "#ddeefa"}, "encoding": {
    "x": {"datum": 0.55, "type": "quantitative", "title": "Time (min)", "scale": {"domain": [-0.65, 30.8], "range": [0, 334], "nice": false, "zero": false}, "axis": {"values": [0, 5, 10, 15, 20, 25, 30], "labelExpr": "datum.value === 0 ? 'BL' : datum.label", "labelFlush": false}},
    "x2": {"datum": 30.8},
    "y": {"datum": 97.5, "type": "quantitative", "title": "MAP (% of baseline)", "scale": {"domain": [95, 130], "nice": false, "zero": false}, "axis": {"values": [100, 110, 120, 130], "labelFlush": false}},
    "y2": {"datum": 130}}},
  {"data": {"values": [{}]}, "mark": {"type": "rule", "color": "#111", "strokeWidth": 2.8}, "encoding": {"x": {"datum": 0.55, "type": "quantitative", "title": "Time (min)"}, "x2": {"datum": 30.8}, "y": {"datum": 97.9, "type": "quantitative", "title": "MAP (% of baseline)"}}},
  {"data": {"values": [{}]}, "mark": {"type": "text", "text": "novel environment", "fontSize": 17, "fontWeight": "bold", "baseline": "alphabetic", "dy": -6, "color": "#111"}, "encoding": {"x": {"datum": 16.2, "type": "quantitative", "title": "Time (min)"}, "y": {"datum": 97.9, "type": "quantitative", "title": "MAP (% of baseline)"}}},
  {"data": {"name": "ts"}, "transform": [{"filter": "datum.p === 'C'"}], "mark": {"type": "line", "strokeWidth": 1.6}, "encoding": {"x": {"field": "t", "type": "quantitative", "title": "Time (min)"}, "y": {"field": "v", "type": "quantitative", "title": "MAP (% of baseline)"}, "color": {"field": "g", "type": "nominal", "scale": {"domain": ["YFP", "ChR2"], "range": ["#f7c300", "#5089cd"]}, "legend": null}}},
  {"data": {"name": "ts"}, "transform": [{"filter": "datum.p === 'C' && datum.t > 0"}], "mark": {"type": "errorbar", "color": "#444", "thickness": 1.1, "ticks": true, "size": 7}, "encoding": {"x": {"field": "t", "type": "quantitative", "title": "Time (min)"}, "y": {"field": "v", "type": "quantitative", "title": "MAP (% of baseline)"}, "yError": {"field": "e"}}},
  {"data": {"name": "ts"}, "transform": [{"filter": "datum.p === 'C'"}], "mark": {"type": "point", "filled": true, "size": 52, "stroke": "#2a2a2a", "strokeWidth": 0.9, "opacity": 1}, "encoding": {"x": {"field": "t", "type": "quantitative", "title": "Time (min)"}, "y": {"field": "v", "type": "quantitative", "title": "MAP (% of baseline)"}, "color": {"field": "g", "type": "nominal", "scale": {"domain": ["YFP", "ChR2"], "range": ["#f7c300", "#5089cd"]}, "legend": null}}},
  {"data": {"name": "stars"}, "transform": [{"filter": "datum.p === 'C'"}], "mark": {"type": "text", "text": "*", "fontSize": 19, "fontWeight": "bold", "dy": 10, "baseline": "alphabetic", "color": "#111"}, "encoding": {"x": {"field": "t", "type": "quantitative", "title": "Time (min)"}, "y": {"field": "y", "type": "quantitative", "title": "MAP (% of baseline)"}}},
  {"data": {"values": [{}]}, "mark": {"type": "text", "text": "C", "fontSize": 28, "fontWeight": "bold", "color": "#111"}, "encoding": {"x": {"datum": -1.59, "type": "quantitative", "title": "Time (min)"}, "y": {"datum": 136.5, "type": "quantitative", "title": "MAP (% of baseline)"}}},
  {"data": {"values": [{}]}, "mark": {"type": "text", "text": "Mean Arterial Pressure", "fontSize": 22, "fontWeight": "bold", "color": "#111"}, "encoding": {"x": {"datum": 14.7, "type": "quantitative", "title": "Time (min)"}, "y": {"datum": 136.5, "type": "quantitative", "title": "MAP (% of baseline)"}}}
 ]},
{"width": 259, "height": 167,
 "layer": [
  {"data": {"values": [{}]}, "mark": {"type": "rect", "color": "#ddeefa"}, "encoding": {
    "x": {"datum": 0.55, "type": "quantitative", "title": "Time (min)", "scale": {"domain": [-0.65, 30.8], "range": [132, 466], "nice": false, "zero": false}, "axis": {"values": [0, 5, 10, 15, 20, 25, 30], "labelExpr": "datum.value === 0 ? 'BL' : datum.label", "labelFlush": false}},
    "x2": {"datum": 30.8},
    "y": {"datum": 97.6, "type": "quantitative", "title": "SAP (% of baseline)", "scale": {"domain": [95, 130], "nice": false, "zero": false}, "axis": {"values": [100, 110, 120, 130], "labelFlush": false, "offset": -132}},
    "y2": {"datum": 130}}},
  {"data": {"values": [{}]}, "mark": {"type": "rule", "color": "#111", "strokeWidth": 2.8}, "encoding": {"x": {"datum": 0.55, "type": "quantitative", "title": "Time (min)"}, "x2": {"datum": 30.8}, "y": {"datum": 98.0, "type": "quantitative", "title": "SAP (% of baseline)"}}},
  {"data": {"values": [{}]}, "mark": {"type": "text", "text": "novel environment", "fontSize": 17, "fontWeight": "bold", "baseline": "alphabetic", "dy": -6, "color": "#111"}, "encoding": {"x": {"datum": 16.1, "type": "quantitative", "title": "Time (min)"}, "y": {"datum": 98.0, "type": "quantitative", "title": "SAP (% of baseline)"}}},
  {"data": {"name": "ts"}, "transform": [{"filter": "datum.p === 'D'"}], "mark": {"type": "line", "strokeWidth": 1.6}, "encoding": {"x": {"field": "t", "type": "quantitative", "title": "Time (min)"}, "y": {"field": "v", "type": "quantitative", "title": "SAP (% of baseline)"}, "color": {"field": "g", "type": "nominal", "scale": {"domain": ["YFP", "ChR2"], "range": ["#f7c300", "#5089cd"]}, "legend": null}}},
  {"data": {"name": "ts"}, "transform": [{"filter": "datum.p === 'D' && datum.t > 0"}], "mark": {"type": "errorbar", "color": "#444", "thickness": 1.1, "ticks": true, "size": 7}, "encoding": {"x": {"field": "t", "type": "quantitative", "title": "Time (min)"}, "y": {"field": "v", "type": "quantitative", "title": "SAP (% of baseline)"}, "yError": {"field": "e"}}},
  {"data": {"name": "ts"}, "transform": [{"filter": "datum.p === 'D'"}], "mark": {"type": "point", "filled": true, "size": 52, "stroke": "#2a2a2a", "strokeWidth": 0.9, "opacity": 1}, "encoding": {"x": {"field": "t", "type": "quantitative", "title": "Time (min)"}, "y": {"field": "v", "type": "quantitative", "title": "SAP (% of baseline)"}, "color": {"field": "g", "type": "nominal", "scale": {"domain": ["YFP", "ChR2"], "range": ["#f7c300", "#5089cd"]}, "legend": null}}},
  {"data": {"name": "stars"}, "transform": [{"filter": "datum.p === 'D'"}], "mark": {"type": "text", "text": "*", "fontSize": 19, "fontWeight": "bold", "dy": 10, "baseline": "alphabetic", "color": "#111"}, "encoding": {"x": {"field": "t", "type": "quantitative", "title": "Time (min)"}, "y": {"field": "y", "type": "quantitative", "title": "SAP (% of baseline)"}}},
  {"data": {"values": [{}]}, "mark": {"type": "text", "text": "D", "fontSize": 28, "fontWeight": "bold", "color": "#111"}, "encoding": {"x": {"datum": -4.23, "type": "quantitative", "title": "Time (min)"}, "y": {"datum": 136.3, "type": "quantitative", "title": "SAP (% of baseline)"}}},
  {"data": {"values": [{}]}, "mark": {"type": "text", "text": "Systolic Arterial Pressure", "fontSize": 22, "fontWeight": "bold", "color": "#111"}, "encoding": {"x": {"datum": 15.45, "type": "quantitative", "title": "Time (min)"}, "y": {"datum": 136.3, "type": "quantitative", "title": "SAP (% of baseline)"}}}
 ]},
{"width": 381, "height": 168,
 "layer": [
  {"data": {"values": [{}]}, "mark": {"type": "rect", "color": "#ddeefa"}, "encoding": {
    "x": {"datum": 0.55, "type": "quantitative", "title": "Time (min)", "scale": {"domain": [-0.65, 30.8], "range": [297, 636], "nice": false, "zero": false}, "axis": {"values": [0, 5, 10, 15, 20, 25, 30], "labelExpr": "datum.value === 0 ? 'BL' : datum.label", "labelFlush": false}},
    "x2": {"datum": 30.8},
    "y": {"datum": 96.9, "type": "quantitative", "title": "DAP (% of baseline)", "scale": {"domain": [95, 130], "range": [168, 3], "nice": false, "zero": false}, "axis": {"values": [100, 110, 120, 130], "labelFlush": false, "offset": -297}},
    "y2": {"datum": 130}}},
  {"data": {"values": [{}]}, "mark": {"type": "rule", "color": "#111", "strokeWidth": 2.8}, "encoding": {"x": {"datum": 0.55, "type": "quantitative", "title": "Time (min)"}, "x2": {"datum": 30.8}, "y": {"datum": 97.3, "type": "quantitative", "title": "DAP (% of baseline)"}}},
  {"data": {"values": [{}]}, "mark": {"type": "text", "text": "novel environment", "fontSize": 17, "fontWeight": "bold", "baseline": "alphabetic", "dy": -6, "color": "#111"}, "encoding": {"x": {"datum": 16.1, "type": "quantitative", "title": "Time (min)"}, "y": {"datum": 97.3, "type": "quantitative", "title": "DAP (% of baseline)"}}},
  {"data": {"name": "ts"}, "transform": [{"filter": "datum.p === 'E'"}], "mark": {"type": "line", "strokeWidth": 1.6}, "encoding": {"x": {"field": "t", "type": "quantitative", "title": "Time (min)"}, "y": {"field": "v", "type": "quantitative", "title": "DAP (% of baseline)"}, "color": {"field": "g", "type": "nominal", "scale": {"domain": ["YFP", "ChR2"], "range": ["#f7c300", "#5089cd"]}, "legend": null}}},
  {"data": {"name": "ts"}, "transform": [{"filter": "datum.p === 'E' && datum.t > 0"}], "mark": {"type": "errorbar", "color": "#444", "thickness": 1.1, "ticks": true, "size": 7}, "encoding": {"x": {"field": "t", "type": "quantitative", "title": "Time (min)"}, "y": {"field": "v", "type": "quantitative", "title": "DAP (% of baseline)"}, "yError": {"field": "e"}}},
  {"data": {"name": "ts"}, "transform": [{"filter": "datum.p === 'E'"}], "mark": {"type": "point", "filled": true, "size": 52, "stroke": "#2a2a2a", "strokeWidth": 0.9, "opacity": 1}, "encoding": {"x": {"field": "t", "type": "quantitative", "title": "Time (min)"}, "y": {"field": "v", "type": "quantitative", "title": "DAP (% of baseline)"}, "color": {"field": "g", "type": "nominal", "scale": {"domain": ["YFP", "ChR2"], "range": ["#f7c300", "#5089cd"]}, "legend": null}}},
  {"data": {"name": "stars"}, "transform": [{"filter": "datum.p === 'E'"}], "mark": {"type": "text", "text": "*", "fontSize": 19, "fontWeight": "bold", "dy": 10, "baseline": "alphabetic", "color": "#111"}, "encoding": {"x": {"field": "t", "type": "quantitative", "title": "Time (min)"}, "y": {"field": "y", "type": "quantitative", "title": "DAP (% of baseline)"}}},
  {"data": {"values": [{}]}, "mark": {"type": "text", "text": "E", "fontSize": 28, "fontWeight": "bold", "color": "#111"}, "encoding": {"x": {"datum": -1.11, "type": "quantitative", "title": "Time (min)"}, "y": {"datum": 137.2, "type": "quantitative", "title": "DAP (% of baseline)"}}},
  {"data": {"values": [{}]}, "mark": {"type": "text", "text": "Diastolic Arterial Pressure", "fontSize": 22, "fontWeight": "bold", "color": "#111"}, "encoding": {"x": {"datum": 15.58, "type": "quantitative", "title": "Time (min)"}, "y": {"datum": 137.2, "type": "quantitative", "title": "DAP (% of baseline)"}}}
 ]},
{"width": 1, "height": 1, "data": {"values": []}, "mark": "point"},

{"width": 1, "height": 146, "data": {"values": []}, "mark": "point"},
{"width": 1, "height": 1, "data": {"values": []}, "mark": "point"},
{"width": 1, "height": 1, "data": {"values": []}, "mark": "point"},
{"width": 1, "height": 1, "data": {"values": []}, "mark": "point"},

{"width": 260, "height": 158, "data": {"values": [{"lab": "Female"}]}, "mark": {"type": "text", "fontSize": 34, "fontWeight": "bold", "color": "#111"}, "encoding": {"text": {"field": "lab", "type": "nominal"}}},
{"width": 259, "height": 184,
 "resolve": {"scale": {"x": "independent"}},
 "layer": [
  {"layer": [
   {"data": {"name": "act"}, "transform": [{"filter": "datum.p === 'F'"}], "mark": {"type": "bar", "stroke": "#111", "strokeWidth": 1.5, "size": 38},
    "encoding": {
     "x": {"field": "g", "type": "nominal", "title": null, "sort": ["YFP", "ChR2"], "scale": {"domain": ["YFP", "ChR2"], "range": [2, 143], "paddingInner": 0.34, "paddingOuter": 0.4, "align": 0.44}, "axis": {"labelAngle": 0, "labelFontSize": 19, "labelFontWeight": "bold", "labelPadding": 3, "labelColor": "#111"}},
     "y": {"field": "m", "type": "quantitative", "title": "Counts/min", "scale": {"domain": [0, 0.5], "range": [184, 3], "nice": false}, "axis": {"values": [0, 0.1, 0.2, 0.3, 0.4, 0.5], "format": ".1f", "labelFlush": false, "offset": -2, "labelOverlap": false, "tickCount": 6}},
     "color": {"field": "g", "type": "nominal", "scale": {"domain": ["YFP", "ChR2"], "range": ["#ffcc00", "#5b8fd1"]}, "legend": null}}},
   {"data": {"name": "act"}, "transform": [{"filter": "datum.p === 'F'"}], "mark": {"type": "errorbar", "color": "#111", "thickness": 1.8, "ticks": true, "size": 20},
    "encoding": {"x": {"field": "g", "type": "nominal", "title": null}, "y": {"field": "m", "type": "quantitative", "title": "Counts/min"}, "yError": {"field": "se"}}},
   {"data": {"values": [{}]}, "mark": {"type": "text", "text": "F", "fontSize": 28, "fontWeight": "bold", "dx": -72, "color": "#111"}, "encoding": {"x": {"datum": "YFP", "type": "nominal", "title": null}, "y": {"datum": 0.591, "type": "quantitative", "title": "Counts/min"}}},
   {"data": {"values": [{}]}, "mark": {"type": "text", "text": "Mean Activity", "fontSize": 22, "fontWeight": "bold", "dx": 39, "color": "#111"}, "encoding": {"x": {"datum": "YFP", "type": "nominal", "title": null}, "y": {"datum": 0.586, "type": "quantitative", "title": "Counts/min"}}}
  ]},
  {"data": {"name": "dots"}, "transform": [{"filter": "datum.p === 'F'"}], "mark": {"type": "circle", "color": "#111", "size": 36, "opacity": 1},
   "encoding": {"x": {"field": "g", "type": "nominal", "title": null, "scale": {"domain": ["YFP", "ChR2"], "range": [2, 143], "paddingInner": 0.651, "paddingOuter": 0.556, "align": 0.457}, "axis": null}, "xOffset": {"field": "id", "type": "nominal"}, "y": {"field": "v", "type": "quantitative", "title": "Counts/min"}}}
 ]},
{"width": 381, "height": 174,
 "layer": [
  {"data": {"values": [{}]}, "mark": {"type": "rect", "color": "#ddeefa"}, "encoding": {
    "x": {"datum": 0.55, "type": "quantitative", "title": "Time (min)", "scale": {"domain": [-0.65, 30.8], "range": [0, 347], "nice": false, "zero": false}, "axis": {"values": [0, 5, 10, 15, 20, 25, 30], "labelExpr": "datum.value === 0 ? 'BL' : datum.label", "labelFlush": false}},
    "x2": {"datum": 30.8},
    "y": {"datum": 97.8, "type": "quantitative", "title": "HR (% of baseline)", "scale": {"domain": [95, 150], "nice": false, "zero": false}, "axis": {"values": [100, 110, 120, 130, 140, 150], "labelFlush": false, "labelOverlap": false, "tickCount": 6}},
    "y2": {"datum": 150}}},
  {"data": {"values": [{}]}, "mark": {"type": "rule", "color": "#111", "strokeWidth": 2.8}, "encoding": {"x": {"datum": 0.55, "type": "quantitative", "title": "Time (min)"}, "x2": {"datum": 30.8}, "y": {"datum": 98.2, "type": "quantitative", "title": "HR (% of baseline)"}}},
  {"data": {"values": [{}]}, "mark": {"type": "text", "text": "novel environment", "fontSize": 17, "fontWeight": "bold", "baseline": "alphabetic", "dy": -6, "color": "#111"}, "encoding": {"x": {"datum": 15.5, "type": "quantitative", "title": "Time (min)"}, "y": {"datum": 98.2, "type": "quantitative", "title": "HR (% of baseline)"}}},
  {"data": {"name": "ts"}, "transform": [{"filter": "datum.p === 'G'"}], "mark": {"type": "line", "strokeWidth": 1.6}, "encoding": {"x": {"field": "t", "type": "quantitative", "title": "Time (min)"}, "y": {"field": "v", "type": "quantitative", "title": "HR (% of baseline)"}, "color": {"field": "g", "type": "nominal", "scale": {"domain": ["YFP", "ChR2"], "range": ["#f7c300", "#5089cd"]}, "legend": {"orient": "none", "legendX": 262, "legendY": 105, "title": null, "symbolType": "circle"}}}},
  {"data": {"name": "ts"}, "transform": [{"filter": "datum.p === 'G' && datum.t > 0"}], "mark": {"type": "errorbar", "color": "#444", "thickness": 1.1, "ticks": true, "size": 7}, "encoding": {"x": {"field": "t", "type": "quantitative", "title": "Time (min)"}, "y": {"field": "v", "type": "quantitative", "title": "HR (% of baseline)"}, "yError": {"field": "e"}}},
  {"data": {"name": "ts"}, "transform": [{"filter": "datum.p === 'G'"}], "mark": {"type": "point", "filled": true, "size": 52, "stroke": "#2a2a2a", "strokeWidth": 0.9, "opacity": 1}, "encoding": {"x": {"field": "t", "type": "quantitative", "title": "Time (min)"}, "y": {"field": "v", "type": "quantitative", "title": "HR (% of baseline)"}, "color": {"field": "g", "type": "nominal", "scale": {"domain": ["YFP", "ChR2"], "range": ["#f7c300", "#5089cd"]}, "legend": {"orient": "none", "legendX": 262, "legendY": 105, "title": null, "symbolType": "circle"}}}},
  {"data": {"name": "stars"}, "transform": [{"filter": "datum.p === 'G'"}], "mark": {"type": "text", "text": "*", "fontSize": 19, "fontWeight": "bold", "dy": 10, "baseline": "alphabetic", "color": "#111"}, "encoding": {"x": {"field": "t", "type": "quantitative", "title": "Time (min)"}, "y": {"field": "y", "type": "quantitative", "title": "HR (% of baseline)"}}},
  {"data": {"values": [{}]}, "mark": {"type": "text", "text": "G", "fontSize": 28, "fontWeight": "bold", "color": "#111"}, "encoding": {"x": {"datum": -1.74, "type": "quantitative", "title": "Time (min)"}, "y": {"datum": 159.8, "type": "quantitative", "title": "HR (% of baseline)"}}},
  {"data": {"values": [{}]}, "mark": {"type": "text", "text": "Heart Rate", "fontSize": 22, "fontWeight": "bold", "color": "#111"}, "encoding": {"x": {"datum": 15.4, "type": "quantitative", "title": "Time (min)"}, "y": {"datum": 159.8, "type": "quantitative", "title": "HR (% of baseline)"}}}
 ]},
{"width": 196, "height": 174, "data": {"name": "sch"},
 "layer": [
  {"mark": {"type": "bar", "stroke": "#222", "strokeWidth": 2},
   "encoding": {
    "x": {"field": "a", "type": "quantitative", "scale": {"domain": [0, 1], "nice": false, "zero": false}, "axis": null},
    "x2": {"field": "b"},
    "y": {"field": "r", "type": "nominal", "scale": {"domain": ["YFP", "ChR2"], "range": [107, 164], "paddingInner": 0.46, "paddingOuter": 0}, "axis": null},
    "color": {"field": "k", "type": "nominal", "scale": {"domain": ["yD", "yM", "yE", "cD", "cP", "cE"], "range": ["#fdefa5", "#ffdc00", "#ffc600", "#c5d8f0", "#93b5e3", "#0d336f"]}, "legend": null}}},
  {"mark": {"type": "text", "align": "left", "baseline": "bottom", "dx": 2, "dy": -12, "fontSize": 15, "fontWeight": "bold", "color": "#111"},
   "encoding": {"x": {"field": "a", "type": "quantitative"}, "y": {"field": "r", "type": "nominal"}, "text": {"field": "s", "type": "nominal"}}}
 ]},

{"width": 1, "height": 105, "data": {"values": []}, "mark": "point"},
{"width": 1, "height": 1, "data": {"values": []}, "mark": "point"},
{"width": 1, "height": 1, "data": {"values": []}, "mark": "point"},
{"width": 1, "height": 1, "data": {"values": []}, "mark": "point"},

{"width": 277, "height": 165,
 "layer": [
  {"data": {"values": [{}]}, "mark": {"type": "rect", "color": "#ddeefa"}, "encoding": {
    "x": {"datum": 0.55, "type": "quantitative", "title": "Time (min)", "scale": {"domain": [-0.65, 30.8], "range": [0, 334], "nice": false, "zero": false}, "axis": {"values": [0, 5, 10, 15, 20, 25, 30], "labelExpr": "datum.value === 0 ? 'BL' : datum.label", "labelFlush": false}},
    "x2": {"datum": 30.8},
    "y": {"datum": 96.7, "type": "quantitative", "title": "MAP (% of baseline)", "scale": {"domain": [95, 130], "nice": false, "zero": false}, "axis": {"values": [100, 110, 120, 130], "labelFlush": false}},
    "y2": {"datum": 130}}},
  {"data": {"values": [{}]}, "mark": {"type": "rule", "color": "#111", "strokeWidth": 2.8}, "encoding": {"x": {"datum": 0.55, "type": "quantitative", "title": "Time (min)"}, "x2": {"datum": 30.8}, "y": {"datum": 97.1, "type": "quantitative", "title": "MAP (% of baseline)"}}},
  {"data": {"values": [{}]}, "mark": {"type": "text", "text": "novel environment", "fontSize": 17, "fontWeight": "bold", "baseline": "alphabetic", "dy": -6, "color": "#111"}, "encoding": {"x": {"datum": 16.2, "type": "quantitative", "title": "Time (min)"}, "y": {"datum": 97.1, "type": "quantitative", "title": "MAP (% of baseline)"}}},
  {"data": {"name": "ts"}, "transform": [{"filter": "datum.p === 'H'"}], "mark": {"type": "line", "strokeWidth": 1.6}, "encoding": {"x": {"field": "t", "type": "quantitative", "title": "Time (min)"}, "y": {"field": "v", "type": "quantitative", "title": "MAP (% of baseline)"}, "color": {"field": "g", "type": "nominal", "scale": {"domain": ["YFP", "ChR2"], "range": ["#f7c300", "#5089cd"]}, "legend": null}}},
  {"data": {"name": "ts"}, "transform": [{"filter": "datum.p === 'H' && datum.t > 0"}], "mark": {"type": "errorbar", "color": "#444", "thickness": 1.1, "ticks": true, "size": 7}, "encoding": {"x": {"field": "t", "type": "quantitative", "title": "Time (min)"}, "y": {"field": "v", "type": "quantitative", "title": "MAP (% of baseline)"}, "yError": {"field": "e"}}},
  {"data": {"name": "ts"}, "transform": [{"filter": "datum.p === 'H'"}], "mark": {"type": "point", "filled": true, "size": 52, "stroke": "#2a2a2a", "strokeWidth": 0.9, "opacity": 1}, "encoding": {"x": {"field": "t", "type": "quantitative", "title": "Time (min)"}, "y": {"field": "v", "type": "quantitative", "title": "MAP (% of baseline)"}, "color": {"field": "g", "type": "nominal", "scale": {"domain": ["YFP", "ChR2"], "range": ["#f7c300", "#5089cd"]}, "legend": null}}},
  {"data": {"values": [{}]}, "mark": {"type": "text", "text": "H", "fontSize": 28, "fontWeight": "bold", "color": "#111"}, "encoding": {"x": {"datum": -1.12, "type": "quantitative", "title": "Time (min)"}, "y": {"datum": 136.8, "type": "quantitative", "title": "MAP (% of baseline)"}}},
  {"data": {"values": [{}]}, "mark": {"type": "text", "text": "Mean Arterial Pressure", "fontSize": 22, "fontWeight": "bold", "color": "#111"}, "encoding": {"x": {"datum": 14.89, "type": "quantitative", "title": "Time (min)"}, "y": {"datum": 136.8, "type": "quantitative", "title": "MAP (% of baseline)"}}}
 ]},
{"width": 259, "height": 166,
 "layer": [
  {"data": {"values": [{}]}, "mark": {"type": "rect", "color": "#ddeefa"}, "encoding": {
    "x": {"datum": 0.55, "type": "quantitative", "title": "Time (min)", "scale": {"domain": [-0.65, 30.8], "range": [139, 475], "nice": false, "zero": false}, "axis": {"values": [0, 5, 10, 15, 20, 25, 30], "labelExpr": "datum.value === 0 ? 'BL' : datum.label", "labelFlush": false}},
    "x2": {"datum": 30.8},
    "y": {"datum": 97.5, "type": "quantitative", "title": "SAP (% of baseline)", "scale": {"domain": [95, 130], "nice": false, "zero": false}, "axis": {"values": [100, 110, 120, 130], "labelFlush": false, "offset": -139}},
    "y2": {"datum": 130}}},
  {"data": {"values": [{}]}, "mark": {"type": "rule", "color": "#111", "strokeWidth": 2.8}, "encoding": {"x": {"datum": 0.55, "type": "quantitative", "title": "Time (min)"}, "x2": {"datum": 30.8}, "y": {"datum": 97.9, "type": "quantitative", "title": "SAP (% of baseline)"}}},
  {"data": {"values": [{}]}, "mark": {"type": "text", "text": "novel environment", "fontSize": 17, "fontWeight": "bold", "baseline": "alphabetic", "dy": -6, "color": "#111"}, "encoding": {"x": {"datum": 16.4, "type": "quantitative", "title": "Time (min)"}, "y": {"datum": 97.9, "type": "quantitative", "title": "SAP (% of baseline)"}}},
  {"data": {"name": "ts"}, "transform": [{"filter": "datum.p === 'I'"}], "mark": {"type": "line", "strokeWidth": 1.6}, "encoding": {"x": {"field": "t", "type": "quantitative", "title": "Time (min)"}, "y": {"field": "v", "type": "quantitative", "title": "SAP (% of baseline)"}, "color": {"field": "g", "type": "nominal", "scale": {"domain": ["YFP", "ChR2"], "range": ["#f7c300", "#5089cd"]}, "legend": null}}},
  {"data": {"name": "ts"}, "transform": [{"filter": "datum.p === 'I' && datum.t > 0"}], "mark": {"type": "errorbar", "color": "#444", "thickness": 1.1, "ticks": true, "size": 7}, "encoding": {"x": {"field": "t", "type": "quantitative", "title": "Time (min)"}, "y": {"field": "v", "type": "quantitative", "title": "SAP (% of baseline)"}, "yError": {"field": "e"}}},
  {"data": {"name": "ts"}, "transform": [{"filter": "datum.p === 'I'"}], "mark": {"type": "point", "filled": true, "size": 52, "stroke": "#2a2a2a", "strokeWidth": 0.9, "opacity": 1}, "encoding": {"x": {"field": "t", "type": "quantitative", "title": "Time (min)"}, "y": {"field": "v", "type": "quantitative", "title": "SAP (% of baseline)"}, "color": {"field": "g", "type": "nominal", "scale": {"domain": ["YFP", "ChR2"], "range": ["#f7c300", "#5089cd"]}, "legend": null}}},
  {"data": {"values": [{}]}, "mark": {"type": "text", "text": "I", "fontSize": 28, "fontWeight": "bold", "color": "#111"}, "encoding": {"x": {"datum": -0.93, "type": "quantitative", "title": "Time (min)"}, "y": {"datum": 136.7, "type": "quantitative", "title": "SAP (% of baseline)"}}},
  {"data": {"values": [{}]}, "mark": {"type": "text", "text": "Systolic Arterial Pressure", "fontSize": 22, "fontWeight": "bold", "color": "#111"}, "encoding": {"x": {"datum": 18.03, "type": "quantitative", "title": "Time (min)"}, "y": {"datum": 136.7, "type": "quantitative", "title": "SAP (% of baseline)"}}}
 ]},
{"width": 381, "height": 168,
 "layer": [
  {"data": {"values": [{}]}, "mark": {"type": "rect", "color": "#ddeefa"}, "encoding": {
    "x": {"datum": 0.55, "type": "quantitative", "title": "Time (min)", "scale": {"domain": [-0.65, 30.8], "range": [310, 651], "nice": false, "zero": false}, "axis": {"values": [0, 5, 10, 15, 20, 25, 30], "labelExpr": "datum.value === 0 ? 'BL' : datum.label", "labelFlush": false}},
    "x2": {"datum": 30.8},
    "y": {"datum": 97.2, "type": "quantitative", "title": "DAP (% of baseline)", "scale": {"domain": [95, 133], "nice": false, "zero": false}, "axis": {"values": [100, 110, 120, 130], "labelFlush": false, "offset": -310}},
    "y2": {"datum": 133}}},
  {"data": {"values": [{}]}, "mark": {"type": "rule", "color": "#111", "strokeWidth": 2.8}, "encoding": {"x": {"datum": 0.55, "type": "quantitative", "title": "Time (min)"}, "x2": {"datum": 30.8}, "y": {"datum": 97.6, "type": "quantitative", "title": "DAP (% of baseline)"}}},
  {"data": {"values": [{}]}, "mark": {"type": "text", "text": "novel environment", "fontSize": 17, "fontWeight": "bold", "baseline": "alphabetic", "dy": -6, "color": "#111"}, "encoding": {"x": {"datum": 15.8, "type": "quantitative", "title": "Time (min)"}, "y": {"datum": 97.6, "type": "quantitative", "title": "DAP (% of baseline)"}}},
  {"data": {"name": "ts"}, "transform": [{"filter": "datum.p === 'J'"}], "mark": {"type": "line", "strokeWidth": 1.6}, "encoding": {"x": {"field": "t", "type": "quantitative", "title": "Time (min)"}, "y": {"field": "v", "type": "quantitative", "title": "DAP (% of baseline)"}, "color": {"field": "g", "type": "nominal", "scale": {"domain": ["YFP", "ChR2"], "range": ["#f7c300", "#5089cd"]}, "legend": null}}},
  {"data": {"name": "ts"}, "transform": [{"filter": "datum.p === 'J' && datum.t > 0"}], "mark": {"type": "errorbar", "color": "#444", "thickness": 1.1, "ticks": true, "size": 7}, "encoding": {"x": {"field": "t", "type": "quantitative", "title": "Time (min)"}, "y": {"field": "v", "type": "quantitative", "title": "DAP (% of baseline)"}, "yError": {"field": "e"}}},
  {"data": {"name": "ts"}, "transform": [{"filter": "datum.p === 'J'"}], "mark": {"type": "point", "filled": true, "size": 52, "stroke": "#2a2a2a", "strokeWidth": 0.9, "opacity": 1}, "encoding": {"x": {"field": "t", "type": "quantitative", "title": "Time (min)"}, "y": {"field": "v", "type": "quantitative", "title": "DAP (% of baseline)"}, "color": {"field": "g", "type": "nominal", "scale": {"domain": ["YFP", "ChR2"], "range": ["#f7c300", "#5089cd"]}, "legend": null}}},
  {"data": {"values": [{}]}, "mark": {"type": "text", "text": "J", "fontSize": 28, "fontWeight": "bold", "color": "#111"}, "encoding": {"x": {"datum": -1.11, "type": "quantitative", "title": "Time (min)"}, "y": {"datum": 138, "type": "quantitative", "title": "DAP (% of baseline)"}}},
  {"data": {"values": [{}]}, "mark": {"type": "text", "text": "Diastolic Arterial Pressure", "fontSize": 22, "fontWeight": "bold", "color": "#111"}, "encoding": {"x": {"datum": 17.62, "type": "quantitative", "title": "Time (min)"}, "y": {"datum": 140.9, "type": "quantitative", "title": "DAP (% of baseline)"}}}
 ]},
{"width": 1, "height": 1, "data": {"values": []}, "mark": "point"}
]
}
